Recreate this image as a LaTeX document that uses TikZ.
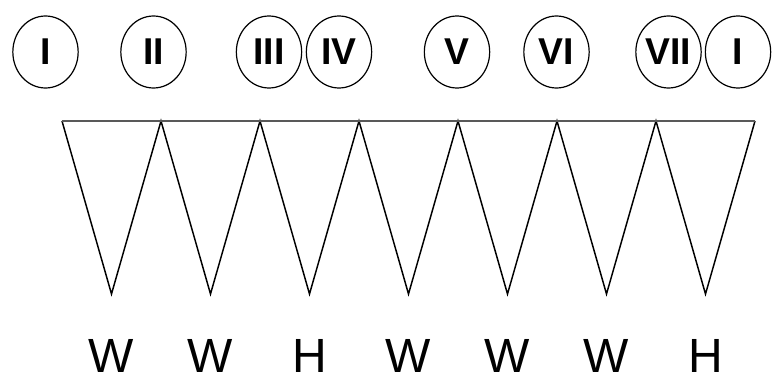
\documentclass[tikz,border=0pt]{standalone}
\usepackage{fontspec}
\setmainfont{Liberation Sans}
\usetikzlibrary{shapes.geometric}

\begin{document}
\begin{tikzpicture}[x=0.75pt, y=-0.75pt,
  degree/.style={ellipse, draw, line width=0.9pt, minimum width=49pt, minimum height=54pt,
    inner sep=0pt, font=\fontsize{28}{28}\selectfont\bfseries},
  steplabel/.style={inner sep=0pt, font=\fontsize{36}{36}\selectfont}]

\useasboundingbox (0,0) rectangle (774,381);

%─────────────
% Controls
%─────────────
\def\topy{121}     % height of the top line
\def\boty{294}     % height of the lower tips
\def\stepw{99}     % width of one step

%─────────────
% Scale degrees
%─────────────
\foreach \name/\txt/\x in {d1/I/45.5, d2/II/153.5, d3/III/269, d4/IV/339,
                           d5/V/457, d6/VI/556.5, d7/VII/668.5, d8/I/738}
  \node[degree] (\name) at (\x,52) {\txt};

%─────────────
% Zigzag of steps
%─────────────
\foreach \i in {0,...,7}
  \coordinate (t\i) at ({62+\stepw*\i},\topy);
\foreach \i in {1,...,7}
  \coordinate (b\i) at ({62+\stepw*\i-\stepw/2},\boty);

\draw[line width=1.1pt] (t0) foreach \i in {1,...,7} { -- (b\i) -- (t\i) };
\draw[line width=1.8pt, black!65] (t0) -- (t7);

%─────────────
% Labels
%─────────────
\foreach \i/\s in {1/W, 2/W, 3/H, 4/W, 5/W, 6/W, 7/H}
  \node[steplabel] (s\i) at ({62+\stepw*\i-\stepw/2},356) {\s};

\end{tikzpicture}
\end{document}
